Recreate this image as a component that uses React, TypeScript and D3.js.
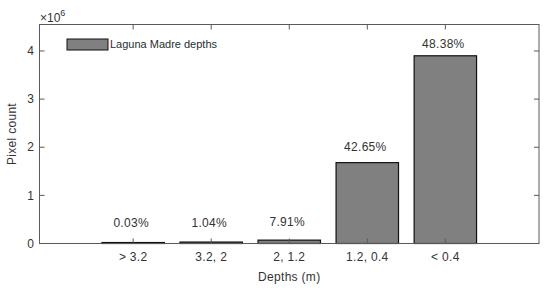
import * as d3 from "d3";
import React from "react";

const categories = ["> 3.2", "3.2, 2", "2, 1.2", "1.2, 0.4", "< 0.4"];
const counts = [0.02, 0.03, 0.07, 1.68, 3.9]; // x 10^6 pixels
const percents = ["0.03%", "1.04%", "7.91%", "42.65%", "48.38%"];
const labelHeights = [0.42, 0.42, 0.46, 2.01, 4.14];
const yTicks = [0, 1, 2, 3, 4];

const W = 550;
const H = 291;
const left = 39.5;
const right = 539;
const top = 24.5;
const bottom = 243.5;
const font = "'Liberation Sans', Arial, sans-serif";
const axisColor = "#5a5a5a";
const textColor = "#333";

const App = () => {
  const x = d3.scaleLinear().domain([-0.2, 6.2]).range([left, right]);
  const y = d3.scaleLinear().domain([0, 4.55]).range([bottom, top]);
  const barW = (x(1) - x(0)) * 0.8;
  const pos = categories.map((_, i) => i + 1);

  return (
    <svg width={W} height={H} style={{ position: "absolute", left: 0, top: 0, background: "#fff" }}>
      {/* bars */}
      {counts.map((v, i) => (
        <rect
          key={i}
          x={x(pos[i]) - barW / 2}
          y={y(v)}
          width={barW}
          height={y(0) - y(v)}
          fill="#808080"
          stroke="#111"
          strokeWidth={1.2}
        />
      ))}
      {/* percentage labels */}
      {percents.map((p, i) => (
        <text
          key={p}
          x={x(pos[i]) - 2}
          y={y(labelHeights[i])}
          dy="0.35em"
          textAnchor="middle"
          fontFamily={font}
          fontSize={12}
          letterSpacing={0.3}
          fill={textColor}
        >
          {p}
        </text>
      ))}
      {/* box */}
      <rect x={left} y={top} width={right - left} height={bottom - top} fill="none" stroke={axisColor} strokeWidth={1} />
      {/* x ticks */}
      {pos.map((p, i) => (
        <g key={i}>
          <line x1={x(p)} x2={x(p)} y1={bottom} y2={bottom - 5} stroke={axisColor} />
          <line x1={x(p)} x2={x(p)} y1={top} y2={top + 5} stroke={axisColor} />
          <text
            x={x(p)}
            y={257}
            dy="0.35em"
            textAnchor="middle"
            fontFamily={font}
            fontSize={12}
            letterSpacing={0.3}
            fill={textColor}
          >
            {categories[i]}
          </text>
        </g>
      ))}
      {/* y ticks */}
      {yTicks.map((t) => (
        <g key={t}>
          <line x1={left} x2={left + 5} y1={y(t)} y2={y(t)} stroke={axisColor} />
          <line x1={right} x2={right - 5} y1={y(t)} y2={y(t)} stroke={axisColor} />
          <text x={34} y={y(t)} dy="0.35em" textAnchor="end" fontFamily={font} fontSize={12} fill={textColor}>
            {t}
          </text>
        </g>
      ))}
      {/* exponent */}
      <text x={40} y={22} fontFamily={font} fontSize={12} fill={textColor}>
        ×10
        <tspan dy={-6} fontSize={9}>
          6
        </tspan>
      </text>
      {/* axis labels */}
      <text
        x={(left + right) / 2}
        y={277}
        dy="0.35em"
        textAnchor="middle"
        fontFamily={font}
        fontSize={12}
        letterSpacing={0.3}
        fill={textColor}
      >
        Depths (m)
      </text>
      <text
        transform={`translate(12, ${(top + bottom) / 2}) rotate(-90)`}
        dy="0.35em"
        textAnchor="middle"
        fontFamily={font}
        fontSize={12}
        letterSpacing={0.3}
        fill={textColor}
      >
        Pixel count
      </text>
      {/* legend */}
      <rect x={67} y={39} width={41} height={11} fill="#808080" stroke="#111" strokeWidth={1} />
      <text x={110} y={44.5} dy="0.35em" fontFamily={font} fontSize={11} fill="#1f2f33">
        Laguna Madre depths
      </text>
    </svg>
  );
};

export default App;
